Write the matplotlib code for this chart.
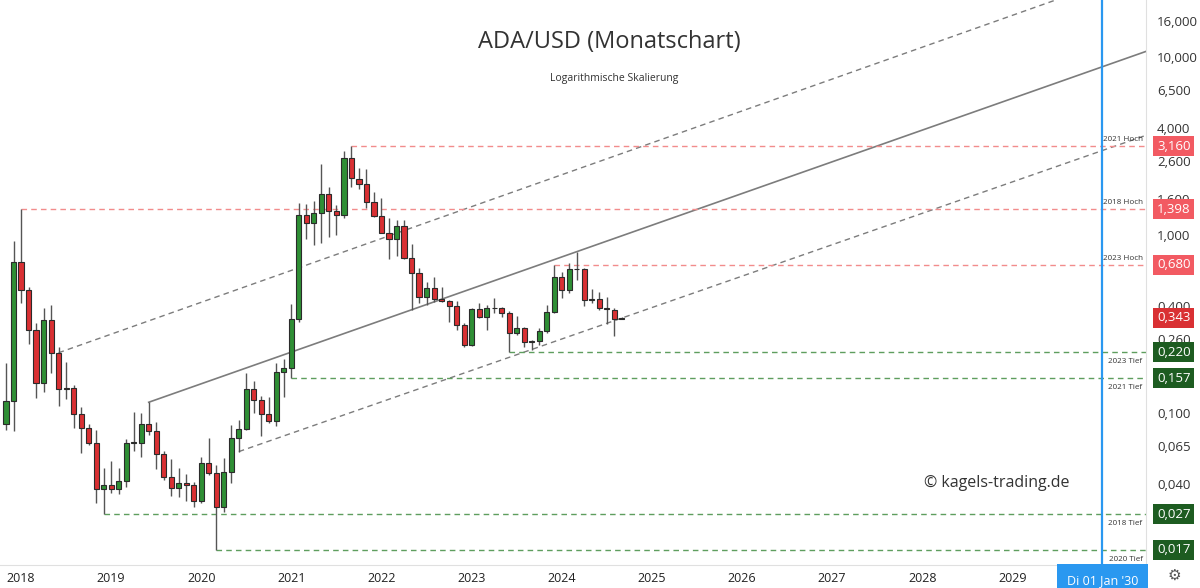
import numpy as np
import pandas as pd
import matplotlib
matplotlib.use("Agg")
import matplotlib.pyplot as plt
from matplotlib.transforms import blended_transform_factory

plt.rcParams['font.family'] = ['Open Sans', 'DejaVu Sans']

# ADA/USD monthly candles, Nov 2017 .. Sep 2024
first_month = "2017-11"
opens = [0.0867, 0.117, 0.708, 0.491, 0.292, 0.148, 0.333, 0.218, 0.136, 0.138,
         0.0987, 0.082, 0.068, 0.0376, 0.0394, 0.0373, 0.0417, 0.068, 0.068, 0.0867,
         0.0795, 0.0586, 0.0439, 0.038, 0.0403, 0.0394, 0.032, 0.0521, 0.0462, 0.0298,
         0.0466, 0.0727, 0.0813, 0.136, 0.119, 0.0984, 0.0906, 0.169, 0.178, 0.336,
         1.295, 1.163, 1.324, 1.70, 1.364, 1.295, 2.72, 2.06, 1.93, 1.527,
         1.278, 1.03, 0.946, 1.12, 0.74, 0.609, 0.45, 0.506, 0.437, 0.427,
         0.399, 0.312, 0.241, 0.383, 0.345, 0.388, 0.39, 0.366, 0.283, 0.302,
         0.252, 0.254, 0.289, 0.371, 0.578, 0.491, 0.641, 0.645, 0.431, 0.435,
         0.388, 0.379, 0.338]
highs = [0.191, 0.929, 1.398, 0.51, 0.32, 0.388, 0.403, 0.236, 0.193, 0.143,
         0.1077, 0.0867, 0.080, 0.0489, 0.0537, 0.0493, 0.0718, 0.1017, 0.0995, 0.1149,
         0.0887, 0.0614, 0.0552, 0.0489, 0.0454, 0.0408, 0.0569, 0.0721, 0.051, 0.0557,
         0.0857, 0.0914, 0.168, 0.151, 0.125, 0.1226, 0.19, 0.20, 0.41, 1.52,
         1.487, 1.552, 2.50, 1.868, 1.474, 2.96, 3.16, 2.37, 2.34, 1.75,
         1.607, 1.24, 1.21, 1.21, 0.89, 0.655, 0.547, 0.578, 0.508, 0.431,
         0.427, 0.319, 0.39, 0.413, 0.404, 0.441, 0.395, 0.374, 0.35, 0.305,
         0.257, 0.302, 0.404, 0.68, 0.622, 0.70, 0.806, 0.65, 0.495, 0.48,
         0.446, 0.39, 0.345]
lows = [0.080, 0.079, 0.413, 0.244, 0.121, 0.132, 0.168, 0.109, 0.120, 0.082,
        0.0598, 0.066, 0.0311, 0.027, 0.0357, 0.0349, 0.0383, 0.0614, 0.0564, 0.0752,
        0.0483, 0.042, 0.0343, 0.0339, 0.0322, 0.0295, 0.0314, 0.0449, 0.017, 0.0279,
        0.0406, 0.0607, 0.080, 0.0995, 0.0743, 0.0874, 0.0849, 0.1226, 0.157, 0.326,
        0.946, 0.879, 0.905, 0.978, 1.0, 1.24, 1.868, 1.81, 1.413, 1.27,
        1.02, 0.733, 0.765, 0.73, 0.379, 0.413, 0.404, 0.422, 0.42, 0.326,
        0.292, 0.236, 0.238, 0.34, 0.292, 0.366, 0.345, 0.22, 0.274, 0.236,
        0.226, 0.241, 0.28, 0.363, 0.441, 0.475, 0.559, 0.399, 0.416, 0.379,
        0.316, 0.271, 0.336]
closes = [0.117, 0.708, 0.491, 0.292, 0.148, 0.333, 0.218, 0.136, 0.138, 0.0987,
          0.082, 0.068, 0.0376, 0.0392, 0.0373, 0.0417, 0.068, 0.0685, 0.0867, 0.0795,
          0.0586, 0.0439, 0.038, 0.0403, 0.0394, 0.032, 0.0521, 0.0462, 0.0298, 0.0466,
          0.0727, 0.0813, 0.136, 0.119, 0.0984, 0.0906, 0.169, 0.178, 0.336, 1.295,
          1.163, 1.324, 1.70, 1.364, 1.295, 2.72, 2.08, 1.93, 1.527, 1.278,
          1.03, 0.946, 1.12, 0.74, 0.609, 0.45, 0.506, 0.439, 0.427, 0.399,
          0.312, 0.241, 0.383, 0.345, 0.388, 0.39, 0.366, 0.283, 0.299, 0.252,
          0.254, 0.289, 0.371, 0.578, 0.491, 0.641, 0.645, 0.431, 0.435, 0.388,
          0.386, 0.336, 0.343]
last_price = 0.343

# horizontal support / resistance levels
level_names = ["2021 Hoch", "2018 Hoch", "2023 Hoch", "2023 Tief", "2021 Tief", "2018 Tief", "2020 Tief"]
level_values = [3.160, 1.398, 0.680, 0.220, 0.157, 0.027, 0.017]
level_starts = ["2021-09", "2018-01", "2023-12", "2023-06", "2021-01", "2018-12", "2020-03"]

# trend channel, two anchors each (month, price)
trend_solid = [("2019-06", 0.1149), ("2024-03", 0.806)]
trend_upper = [("2018-06", 0.218), ("2024-10", 2.97)]
trend_lower = [("2020-06", 0.0607), ("2025-01", 0.391)]

year_labels = [str(y) for y in range(2018, 2030)]
price_ticks = [16, 10, 6.5, 4, 2.6, 1.6, 1.0, 0.4, 0.26, 0.1, 0.065, 0.04]
marker_month = "2030-01"
marker_text = "Di 01 Jan '30"

GREEN = '#2f8f35'
RED = '#d93033'
HI_BOX = '#f25a62'
LO_BOX = '#1d5c21'
BLUE = '#2a98f0'


def midx(s):
    """month index, Jan 2018 = 0"""
    p = pd.Period(s, 'M')
    return (p.year - 2018) * 12 + p.month - 1


def fmt(v):
    return ("%.3f" % v).replace('.', ',')


fig = plt.figure(figsize=(12, 5.88), dpi=100)
ax = fig.add_axes([0, 23 / 588, 1146 / 1200, 565 / 588])
ax.set_yscale('log')
xmin, xmax = -2.8, 149.8
ax.set_xlim(xmin, xmax)
ax.set_ylim(0.0140, 20.9)

# candles
x = np.arange(len(opens)) + midx(first_month)
o, h, l, c = map(np.array, (opens, highs, lows, closes))
up = c >= o
ax.vlines(x, l, h, color='#555555', lw=1, zorder=2)
colors = np.where(up, GREEN, RED)
ax.bar(x, np.abs(c - o), bottom=np.minimum(o, c), width=0.68, color=colors,
       edgecolor='#2b2b2b', linewidth=0.8, zorder=3)

# trend channel
for pts, ls, lw in [(trend_solid, '-', 1.2), (trend_upper, (0, (4, 3)), 1.0),
                    (trend_lower, (0, (4, 3)), 1.0)]:
    (s0, p0), (s1, p1) = pts
    m0, m1 = midx(s0), midx(s1)
    mm = np.array([m0, xmax])
    yy = p0 * (p1 / p0) ** ((mm - m0) / (m1 - m0))
    ax.plot(mm, yy, color='#7c7c7c', lw=lw, linestyle=ls, zorder=1)

# horizontal levels
trans = blended_transform_factory(ax.transAxes, ax.transData)
for name, v, s in zip(level_names, level_values, level_starts):
    hi = 'Hoch' in name
    col = '#f28c8c' if hi else '#5e9e5e'
    ax.hlines(v, midx(s), xmax, color=col, lw=1, linestyle=(0, (4, 3)), zorder=1)
    ax.annotate(name, xy=(0.997, v), xycoords=trans, xytext=(0, 2 if hi else -4),
                textcoords='offset points', ha='right', va='bottom' if hi else 'top',
                fontsize=5.8, color='#333333', zorder=4)
    ax.annotate(fmt(v), xy=(1, v), xycoords=trans, xytext=(8, 0),
                textcoords='offset points', ha='left', va='center', fontsize=9.5,
                color='white', annotation_clip=False, zorder=6,
                bbox=dict(boxstyle='square,pad=0.28', fc=HI_BOX if hi else LO_BOX, ec='none'))

ax.annotate(fmt(last_price), xy=(1, last_price), xycoords=trans, xytext=(8, 0),
            textcoords='offset points', ha='left', va='center', fontsize=9.5,
            color='white', annotation_clip=False, zorder=6,
            bbox=dict(boxstyle='square,pad=0.28', fc=RED, ec='none'))

# vertical marker line + date label
mx = midx(marker_month)
ax.axvline(mx, color=BLUE, lw=1.6, zorder=2)
ax.annotate(marker_text, xy=(mx, 0), xycoords=('data', 'axes fraction'), xytext=(0, -11),
            textcoords='offset points', ha='center', va='center', fontsize=9,
            color='white', annotation_clip=False, zorder=6,
            bbox=dict(boxstyle='square,pad=0.75', fc=BLUE, ec='none'))

# axes styling
ax.set_xticks(np.arange(len(year_labels)) * 12)
ax.set_xticklabels(year_labels)
ax.yaxis.tick_right()
ax.set_yticks(price_ticks)
ax.set_yticklabels([fmt(v) for v in price_ticks])
ax.yaxis.set_minor_locator(matplotlib.ticker.NullLocator())
ax.tick_params(axis='x', length=0, pad=5, labelsize=9, labelcolor='#222222')
ax.tick_params(axis='y', length=0, pad=8, labelsize=9.5, labelcolor='#333333')
for side in ['top', 'left']:
    ax.spines[side].set_visible(False)
for side in ['bottom', 'right']:
    ax.spines[side].set_color('#e0e0e0')

# titles and watermark
fig.text(0.508, 0.928, "ADA/USD (Monatschart)", ha='center', va='center', fontsize=17, color='#333333')
fig.text(0.512, 0.867, "Logarithmische Skalierung", ha='center', va='center', fontsize=7.5, color='#333333')
fig.text(0.831, 0.178, "\u00a9 kagels-trading.de", ha='center', va='center', fontsize=11.5, color='#333333')
fig.text(0.979, 0.021, "\u2699", ha='center', va='center', fontsize=11, color='#555555',
         family='DejaVu Sans')

fig.savefig('out.png', dpi=100)
